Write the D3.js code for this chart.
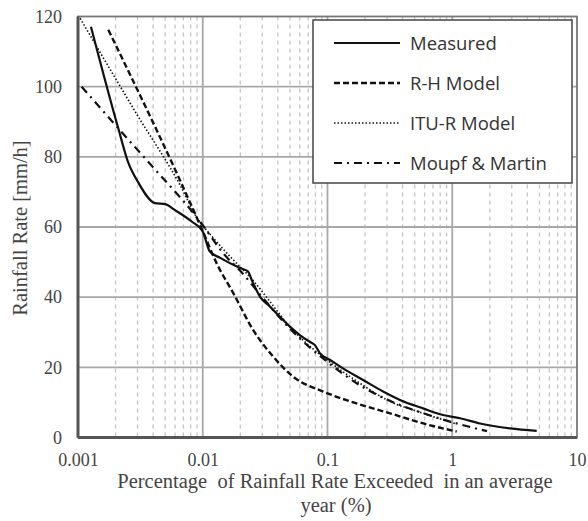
<!DOCTYPE html>
<html>
<head>
<meta charset="utf-8">
<script src="https://cdn.jsdelivr.net/npm/d3@7"></script>
<style>
  body { margin: 0; background: #fff; }
  #chart { width: 588px; height: 521px; }
</style>
</head>
<body>
<div id="chart"></div>
<script>
// values
const measuredX = [0.00127, 0.0021, 0.00252, 0.00303, 0.00414, 0.0050, 0.0060, 0.0082, 0.0100, 0.0114, 0.0138, 0.0199, 0.0231, 0.0247, 0.0288, 0.0346, 0.0416, 0.050, 0.060, 0.072, 0.079, 0.087, 0.105, 0.133, 0.193, 0.279, 0.381, 0.583, 0.843, 1.154, 1.669, 2.904, 4.75];
const measuredY = [117.1, 88.2, 78.5, 72.8, 66.8, 66.5, 64.8, 61.5, 58.7, 53.0, 51.2, 48.3, 47.3, 44.9, 40.1, 37.3, 34.4, 31.6, 29.2, 27.3, 26.4, 24.0, 22.1, 19.7, 16.4, 13.1, 10.7, 8.3, 6.4, 5.5, 4.0, 2.6, 1.9];

const rhX = [0.00175, 0.0100, 0.0129, 0.0176, 0.0254, 0.0368, 0.0532, 0.0925, 0.171, 0.317, 0.586, 1.086];
const rhY = [116.2, 58.8, 49.7, 41.1, 30.6, 23.0, 17.3, 13.1, 9.7, 6.9, 4.0, 1.7];

const ituX = [0.00104, 0.0030, 0.00657, 0.0089, 0.0122, 0.0176, 0.025, 0.035, 0.050, 0.075, 0.10, 0.20, 0.30, 0.586, 1.07];
const ituY = [119.5, 91.8, 72.0, 62.9, 56.8, 50.6, 45.0, 38.5, 31.5, 25.5, 22.0, 14.5, 10.7, 6.9, 3.9];

const mmX = [0.00107, 0.0020, 0.0040, 0.00866, 0.010, 0.015, 0.020, 0.030, 0.050, 0.10, 0.20, 0.30, 0.586, 1.086, 1.9];
const mmY = [100.0, 89.0, 77.0, 63.4, 60.5, 52.0, 47.5, 40.0, 31.0, 21.5, 14.0, 10.8, 6.9, 4.0, 1.8];

const xTicks = [0.001, 0.01, 0.1, 1, 10];
const xTickLabels = ['0.001', '0.01', '0.1', '1', '10'];
const yTicks = [0, 20, 40, 60, 80, 100, 120];

const seriesNames = ['Measured', 'R-H Model', 'ITU-R Model', 'Moupf & Martin'];

const zip = (xs, ys) => xs.map((x, i) => ({ x, y: ys[i] }));
const series = [
    { name: seriesNames[0], data: zip(measuredX, measuredY), dash: null, width: 2.2 },
    { name: seriesNames[1], data: zip(rhX, rhY), dash: '6,3', width: 2.4 },
    { name: seriesNames[2], data: zip(ituX, ituY), dash: '1.5,2', width: 1.6 },
    { name: seriesNames[3], data: zip(mmX, mmY), dash: '8,5,2,5', width: 2.2 },
];

const margin = { top: 16.5, right: 11, bottom: 83.5, left: 78 };
const totalW = 588, totalH = 521;
const width = totalW - margin.left - margin.right;
const height = totalH - margin.top - margin.bottom;

const serif = '"Liberation Serif", "DejaVu Serif", serif';

const svg = d3.select('#chart').append('svg')
    .attr('width', totalW)
    .attr('height', totalH);

const g = svg.append('g').attr('transform', `translate(${margin.left},${margin.top})`);

const x = d3.scaleLog().domain([0.001, 10]).range([0, width]);
const y = d3.scaleLinear().domain([0, 120]).range([height, 0]);

// minor vertical grid (2..9 in each decade)
const minor = [];
[0.001, 0.01, 0.1, 1].forEach(d => { for (let k = 2; k <= 9; k++) minor.push(d * k); });
g.selectAll('.minor').data(minor).enter().append('line')
    .attr('x1', d => x(d)).attr('x2', d => x(d))
    .attr('y1', 0).attr('y2', height)
    .attr('stroke', '#c4c4c4').attr('stroke-width', 1.3)
    .attr('stroke-dasharray', '4,4');

// major grid
g.selectAll('.vmajor').data(xTicks.slice(1, -1)).enter().append('line')
    .attr('x1', d => x(d)).attr('x2', d => x(d))
    .attr('y1', 0).attr('y2', height)
    .attr('stroke', '#a8a8a8').attr('stroke-width', 1.8);
g.selectAll('.hmajor').data(yTicks.slice(1, -1)).enter().append('line')
    .attr('x1', 0).attr('x2', width)
    .attr('y1', d => y(d)).attr('y2', d => y(d))
    .attr('stroke', '#a8a8a8').attr('stroke-width', 1.8);

// frame
g.append('rect').attr('width', width).attr('height', height)
    .attr('fill', 'none').attr('stroke', '#777').attr('stroke-width', 1.8);
g.append('line').attr('x1', 0).attr('x2', 0).attr('y1', 0).attr('y2', height)
    .attr('stroke', '#555').attr('stroke-width', 3);
g.append('line').attr('x1', 0).attr('x2', width).attr('y1', height).attr('y2', height)
    .attr('stroke', '#555').attr('stroke-width', 3);

// axes labels
const xAxis = d3.axisBottom(x).tickValues(xTicks).tickSize(0).tickPadding(16)
    .tickFormat((d, i) => xTickLabels[i]);
const gx = g.append('g').attr('transform', `translate(0,${height})`).call(xAxis);
const yAxis = d3.axisLeft(y).tickValues(yTicks).tickSize(0).tickPadding(16);
const gy = g.append('g').call(yAxis);
[gx, gy].forEach(a => {
    a.select('.domain').remove();
    a.selectAll('text')
        .style('font-family', serif)
        .style('font-size', '18px')
        .attr('fill', '#444');
});

// curves
const line = d3.line()
    .x(d => x(d.x))
    .y(d => y(d.y))
    .curve(d3.curveMonotoneX);

series.forEach(s => {
    g.append('path')
        .datum(s.data)
        .attr('fill', 'none')
        .attr('stroke', '#111')
        .attr('stroke-width', s.width)
        .attr('stroke-dasharray', s.dash)
        .attr('d', line);
});

// axis titles
svg.append('text')
    .attr('transform', `translate(27,228) rotate(-90)`)
    .attr('text-anchor', 'middle')
    .style('font-family', serif)
    .style('font-size', '20.5px')
    .attr('fill', '#444')
    .text('Rainfall Rate [mm/h]');

svg.append('text')
    .attr('x', 335).attr('y', 488)
    .attr('text-anchor', 'middle')
    .style('font-family', serif)
    .style('font-size', '20.5px')
    .style('white-space', 'pre')
    .attr('fill', '#444')
    .text('Percentage  of Rainfall Rate Exceeded  in an average');
svg.append('text')
    .attr('x', 336).attr('y', 512)
    .attr('text-anchor', 'middle')
    .style('font-family', serif)
    .style('font-size', '20.5px')
    .attr('fill', '#444')
    .text('year (%)');

// legend
const legend = svg.append('g').attr('transform', 'translate(313,20)');
legend.append('rect').attr('width', 259).attr('height', 163)
    .attr('fill', '#fff').attr('stroke', '#444').attr('stroke-width', 1.5);
series.forEach((s, i) => {
    const row = legend.append('g').attr('transform', `translate(0,${23 + i * 40})`);
    row.append('line').attr('x1', 21).attr('x2', 87).attr('y1', 0).attr('y2', 0)
        .attr('stroke', '#111').attr('stroke-width', s.width)
        .attr('stroke-dasharray', s.dash);
    row.append('text').attr('x', 97).attr('y', 6.5)
        .style('font-family', '"Open Sans", "Noto Sans", sans-serif')
        .style('font-size', '18.5px')
        .attr('fill', '#333')
        .text(s.name);
});
</script>
</body>
</html>
